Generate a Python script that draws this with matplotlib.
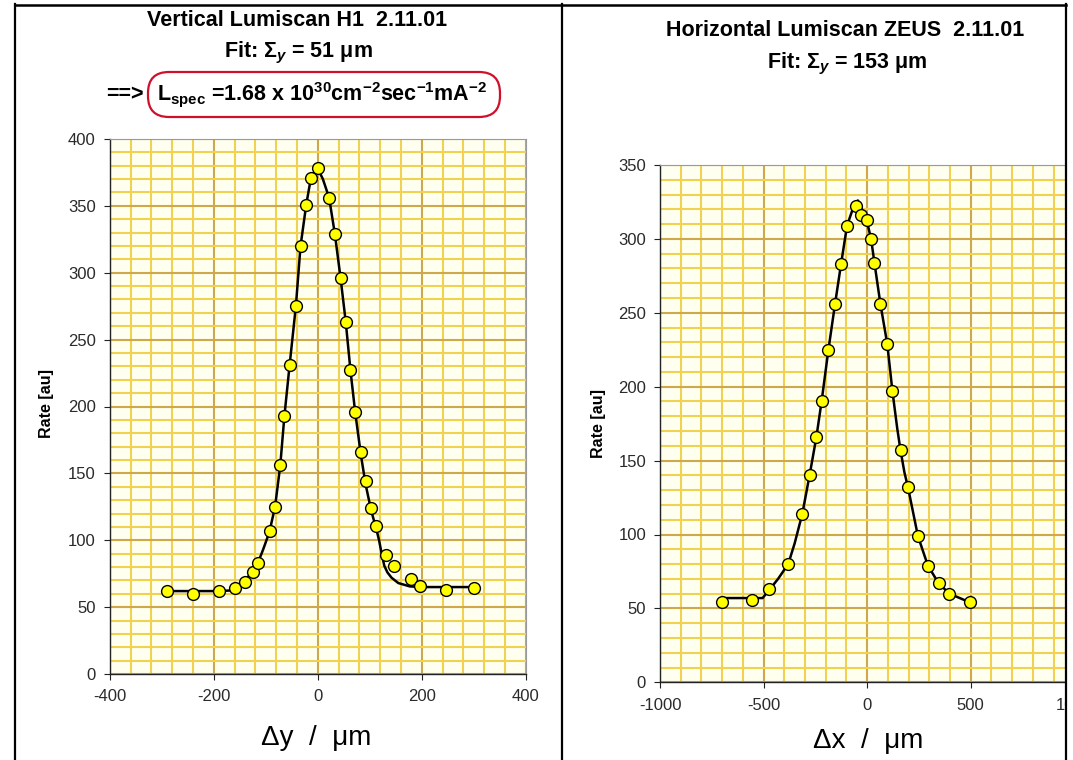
import matplotlib.pyplot as plt
import numpy as np
from matplotlib.ticker import MultipleLocator
from matplotlib.lines import Line2D
from matplotlib.patches import Rectangle, FancyBboxPatch
from matplotlib.transforms import IdentityTransform

plt.rcParams['font.family'] = ['Liberation Sans', 'DejaVu Sans']
plt.rcParams['mathtext.fontset'] = 'custom'
plt.rcParams['mathtext.rm'] = 'Liberation Sans:bold'
plt.rcParams['mathtext.it'] = 'Liberation Sans:italic:bold'
plt.rcParams['mathtext.bf'] = 'Liberation Sans:bold'
plt.rcParams['axes.unicode_minus'] = False

# Vertical scan (H1): measured points
vert_dy = [-290, -240, -190, -160, -140, -125, -115, -92, -82, -72, -64, -54, -42, -33, -22, -13, 0,
           22, 33, 44, 54, 63, 72, 83, 92, 103, 113, 131, 147, 179, 197, 247, 300]
vert_rate = [62, 60, 62, 64, 69, 76, 83, 107, 125, 156, 193, 231, 275, 320, 351, 371, 378,
             356, 329, 296, 263, 227, 196, 166, 144, 124, 111, 89, 81, 71, 66, 63, 64.5]
# Vertical scan: fit curve
vert_fit_dy = [-290, -240, -190, -165, -156, -140, -124, -114, -105, -93, -82, -72, -64, -54, -42, -33,
               -22, -13, 0, 10, 22, 33, 44, 54, 63, 72, 83, 92, 103, 113, 118, 123, 128, 134, 142,
               155, 177, 200, 250, 300]
vert_fit_rate = [62, 62, 62, 62.5, 65, 70, 77, 84, 93, 106, 125, 156, 193, 231, 275, 320,
                 351, 371, 378, 370, 356, 329, 296, 263, 227, 196, 164, 142, 122, 108, 100, 90, 81, 76, 72,
                 68, 65.5, 65, 65, 65]

# Horizontal scan (ZEUS): measured points
hor_dx = [-700, -555, -475, -381, -313, -278, -245, -220, -187, -155, -126, -97, -52, -32, -3,
          19, 35, 64, 97, 122, 161, 197, 245, 293, 345, 397, 497]
hor_rate = [54, 56, 63, 80, 114, 140, 166, 190, 225, 256, 283, 309, 322, 316, 313,
            300, 284, 256, 229, 197, 157, 132, 99, 79, 67, 60, 54]
# Horizontal scan: fit curve
hor_fit_dx = [-700, -555, -505, -475, -430, -381, -350, -313, -278, -245, -220, -187, -155, -126, -97,
              -70, -45, -25, -3, 19, 35, 64, 97, 122, 145, 161, 180, 197, 245, 293, 345, 397, 497]
hor_fit_rate = [57, 57, 57, 62, 70, 80, 94, 114, 140, 166, 190, 225, 256, 283, 309,
                320, 326, 320, 313, 300, 284, 256, 229, 197, 172, 157, 142, 132, 99, 79, 67, 60, 54]

W, H = 1073, 760
fig = plt.figure(figsize=(W / 100, H / 100), dpi=100)


def px_box(x0, y0, x1, y1):
    # pixel box (top-left origin) -> figure fraction rect
    return [x0 / W, 1 - y1 / H, (x1 - x0) / W, (y1 - y0) / H]


def style(ax, xlim, ylim, xmaj, xmin):
    ax.set_xlim(xlim)
    ax.set_ylim(ylim)
    ax.xaxis.set_major_locator(MultipleLocator(xmaj))
    ax.xaxis.set_minor_locator(MultipleLocator(xmin))
    ax.yaxis.set_major_locator(MultipleLocator(50))
    ax.yaxis.set_minor_locator(MultipleLocator(10))
    ax.set_facecolor('#FFFFF0')
    ax.set_axisbelow(True)
    ax.grid(which='minor', color='#F0D250', lw=1.5)
    ax.grid(which='major', color='#CFA84C', lw=1.5)
    for s in ['top', 'right']:
        ax.spines[s].set_color('#9a9a9a')
        ax.spines[s].set_linewidth(0.8)
    for s in ['left', 'bottom']:
        ax.spines[s].set_color('#222222')
        ax.spines[s].set_linewidth(1.0)
    ax.tick_params(which='major', length=4, color='#222222', labelsize=12, labelcolor='#2a2a2a')
    ax.tick_params(axis='x', which='major', pad=7)
    ax.tick_params(axis='y', which='major', pad=6)
    ax.tick_params(which='minor', length=0)


ax1 = fig.add_axes(px_box(109.7, 139, 525.7, 674))
style(ax1, (-400, 400), (0, 400), 200, 40)
ax1.plot(vert_fit_dy, vert_fit_rate, color='black', lw=1.8, zorder=3)
ax1.plot(vert_dy, vert_rate, 'o', ms=8.5, mfc='#FFFF00', mec='black', mew=1.0, zorder=4)

ax2 = fig.add_axes(px_box(660, 165, 1074.3, 682.3))
style(ax2, (-1000, 1000), (0, 350), 500, 100)
ax2.plot(hor_fit_dx, hor_fit_rate, color='black', lw=1.8, zorder=3)
ax2.plot(hor_dx, hor_rate, 'o', ms=8.5, mfc='#FFFF00', mec='black', mew=1.0, zorder=4)

# Titles
fig.text(297 / W, 1 - 21 / H, 'Vertical Lumiscan H1  2.11.01', ha='center', va='center',
         fontsize=15.5, fontweight='bold')
fig.text(298 / W, 1 - 53 / H, 'Fit: Σ$_y$ = 51 μm', ha='center', va='center',
         fontsize=15.5, fontweight='bold')
fig.text(106 / W, 1 - 95 / H, '==>', ha='left', va='center', fontsize=15.5, fontweight='bold')
fig.text(157 / W, 1 - 95 / H,
         r'L$_{\mathbf{spec}}$ =1.68 x 10$^{30}$cm$^{-2}$sec$^{-1}$mA$^{-2}$',
         ha='left', va='center', fontsize=15.5, fontweight='bold')
fig.add_artist(FancyBboxPatch((148, H - 117), 352, 45, boxstyle='round,pad=0,rounding_size=21',
                              transform=IdentityTransform(), fill=False, ec='#D0102A', lw=1.6))

fig.text(845 / W, 1 - 30 / H, 'Horizontal Lumiscan ZEUS  2.11.01', ha='center', va='center',
         fontsize=15.5, fontweight='bold')
fig.text(847 / W, 1 - 64 / H, 'Fit: Σ$_y$ = 153 μm', ha='center', va='center',
         fontsize=15.5, fontweight='bold')

# Axis labels
fig.text(47 / W, 1 - 404 / H, 'Rate [au]', rotation=90, ha='center', va='center',
         fontsize=11.5, fontweight='bold')
fig.text(598 / W, 1 - 424 / H, 'Rate [au]', rotation=90, ha='center', va='center',
         fontsize=11.5, fontweight='bold')
fig.text(316 / W, 1 - 738 / H, 'Δy  /  μm', ha='center', va='center', fontsize=20)
fig.text(868 / W, 1 - 741 / H, 'Δx  /  μm', ha='center', va='center', fontsize=20)

# Frame lines of the original slide
fig.add_artist(Rectangle((1067 / W, 0), 1, 1, transform=fig.transFigure, fc='white', ec='none', zorder=10))
for x in [15, 562, 1066]:
    fig.add_artist(Line2D([x / W, x / W], [0, 1 - 4 / H], color='black', lw=1.6, zorder=11))
fig.add_artist(Line2D([15 / W, 1066 / W], [1 - 5 / H, 1 - 5 / H], color='black', lw=1.8, zorder=11))

fig.savefig('out.png', dpi=100)
